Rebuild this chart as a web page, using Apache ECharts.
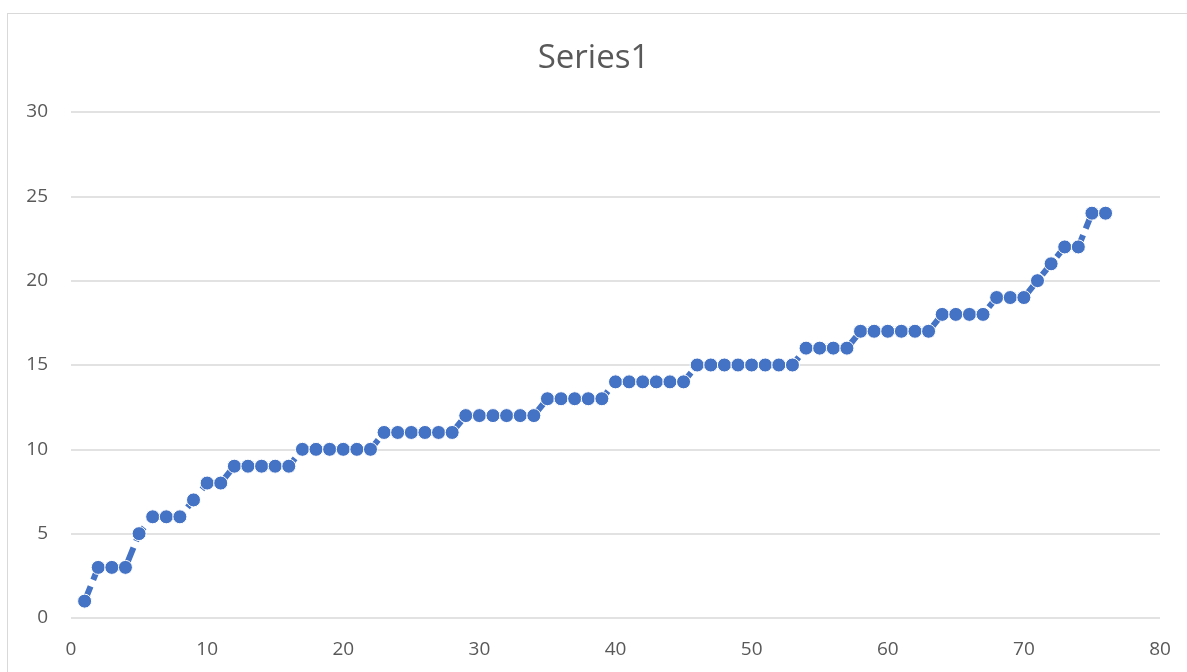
<!DOCTYPE html>
<html>
<head>
<meta charset="utf-8">
<script src="https://cdn.jsdelivr.net/npm/echarts@6/dist/echarts.min.js"></script>
<style>
html,body{margin:0;padding:0;background:#fff;}
#frame{position:absolute;left:7px;top:13px;width:1200px;height:700px;border-left:1.5px solid #d9d9d9;border-top:1.5px solid #d9d9d9;}
#chart{position:absolute;left:0;top:0;width:1187px;height:672px;}
</style>
</head>
<body>
<div id="frame"></div>
<div id="chart"></div>
<script>
const title = "Series1";
const xValues = [1,2,3,4,5,6,7,8,9,10,11,12,13,14,15,16,17,18,19,20,21,22,23,24,25,26,27,28,29,30,31,32,33,34,35,36,37,38,39,40,41,42,43,44,45,46,47,48,49,50,51,52,53,54,55,56,57,58,59,60,61,62,63,64,65,66,67,68,69,70,71,72,73,74,75,76];
const yValues = [1,3,3,3,5,6,6,6,7,8,8,9,9,9,9,9,10,10,10,10,10,10,11,11,11,11,11,11,12,12,12,12,12,12,13,13,13,13,13,14,14,14,14,14,14,15,15,15,15,15,15,15,15,16,16,16,16,17,17,17,17,17,17,18,18,18,18,19,19,19,20,21,22,22,24,24];

const chart = echarts.init(document.getElementById('chart'), null, {renderer:'canvas'});
const font = '"Open Sans", "Liberation Sans", sans-serif';
chart.setOption({
  animation: false,
  backgroundColor: 'transparent',
  title: {
    text: title, left: 'center', top: 37,
    textStyle: {fontFamily: font, fontSize: 33, fontWeight: 'normal', color: '#595959'}
  },
  grid: {left: 71, right: 27, top: 112, bottom: 54, containLabel: false},
  xAxis: {
    type: 'value', min: 0, max: 80, interval: 10,
    axisLine: {show: false}, axisTick: {show: false}, splitLine: {show: false},
    axisLabel: {fontFamily: font, fontSize: 19, color: '#595959', margin: 22}
  },
  yAxis: {
    type: 'value', min: 0, max: 30, interval: 5,
    axisLine: {show: false}, axisTick: {show: false},
    splitLine: {lineStyle: {color: '#d9d9d9', width: 1.5}},
    axisLabel: {fontFamily: font, fontSize: 19, color: '#595959', margin: 23}
  },
  series: [{
    type: 'line',
    data: xValues.map((x, i) => [x, yValues[i]]),
    symbol: 'circle', symbolSize: 14,
    lineStyle: {color: '#4472C4', width: 6, type: [16, 7], cap: 'butt'},
    itemStyle: {color: '#4472C4', borderColor: '#ffffff', borderWidth: 1}
  }]
});
</script>
</body>
</html>
